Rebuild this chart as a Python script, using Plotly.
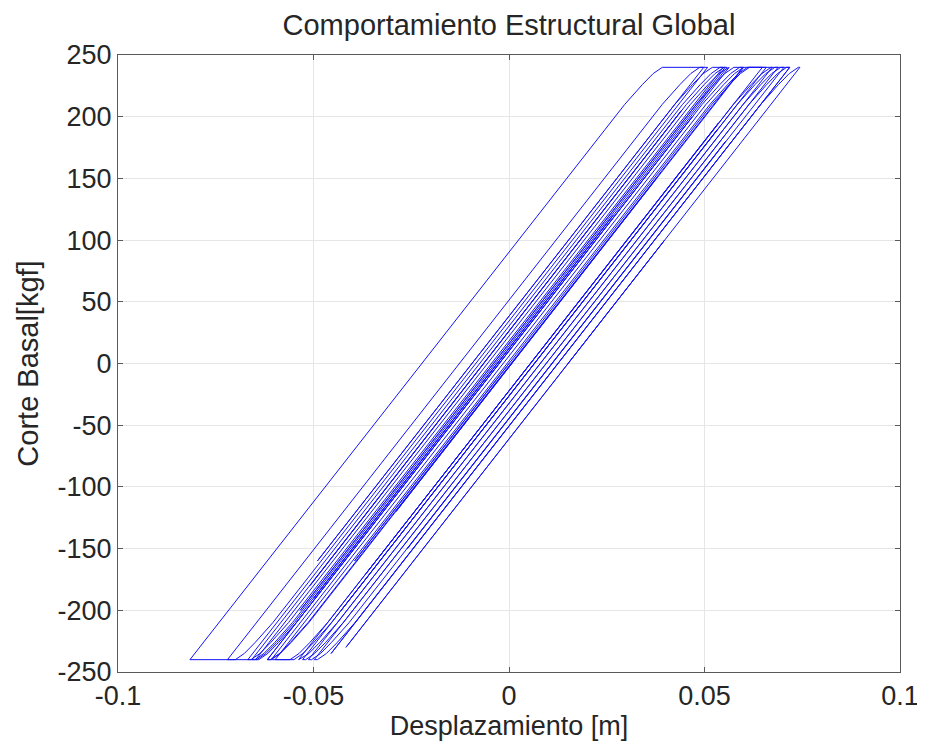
import plotly.graph_objects as go

# Vertices of the hysteresis path, in drawing order
desplazamiento_m = [
    0.0000, 0.0296, -0.0247, 0.0444, -0.0395,
    0.0519, 0.0564, 0.0592, 0.0615, 0.0648,
    -0.0464, -0.0509, -0.0537, -0.0560, -0.0598,
    0.0242, -0.0375, 0.0514, 0.0559, 0.0587, 0.0610, 0.0658,
    -0.0429, 0.0534, -0.0454, -0.0499, -0.0527, -0.0550, -0.0608,
    0.0504, 0.0549, 0.0577, 0.0600, 0.0600,
    -0.0289, 0.0377, -0.0512, -0.0557, -0.0585, -0.0608, -0.0618,
    0.0469, -0.0544, -0.0589, -0.0617, -0.0640, -0.0648,
    0.0464, 0.0509, 0.0537, 0.0560, 0.0563,
    -0.0499, 0.0266, -0.0549, -0.0594, -0.0622, -0.0645, -0.0658,
    0.0441, -0.0509, 0.0454, 0.0499, 0.0527, 0.0550, 0.0558,
    -0.0554, -0.0599, -0.0627, -0.0650, -0.0668,
    0.0444, 0.0489, 0.0517, 0.0540, 0.0548,
    -0.0564, -0.0609, -0.0637, -0.0660, -0.0816,
    0.0296, 0.0341, 0.0369, 0.0392, 0.0508,
    -0.0604, -0.0649, -0.0677, -0.0700, -0.0720,
    0.0392, 0.0437, 0.0465, 0.0488, 0.0498,
    -0.0490, 0.0349, -0.0342, 0.0424, 0.0469, 0.0497, 0.0520, 0.0553,
    -0.0361, 0.0380, -0.0534, 0.0479, 0.0524, 0.0552, 0.0575, 0.0598,
    -0.0514, -0.0559, -0.0587, -0.0610, -0.0618,
    0.0494, 0.0539, 0.0567, 0.0590, 0.0673,
    -0.0439, -0.0484, -0.0512, -0.0535, -0.0538,
    0.0536, -0.0365, 0.0574, 0.0619, 0.0647, 0.0670, 0.0688,
    -0.0424, -0.0469, -0.0497, -0.0520, -0.0528,
    0.0584, 0.0629, 0.0657, 0.0680, 0.0703,
    -0.0260, 0.0554, -0.0409, -0.0454, -0.0482, -0.0505, -0.0513,
    0.0599, 0.0644, 0.0672, 0.0695, 0.0718,
    -0.0394, -0.0439, -0.0467, -0.0490, -0.0498,
    0.0614, 0.0659, 0.0687, 0.0710, 0.0718,
    -0.0455, 0.0495, -0.0381, 0.0644, 0.0689, 0.0717, 0.0740, 0.0744,
    -0.0417, 0.0398, 0.0151,
]
corte_basal_kgf = [
    0, 120, -100, 180, -160,
    210, 226, 235, 240, 240,
    -210, -226, -235, -240, -240,
    100, -150, 210, 226, 235, 240, 240,
    -200, 190, -210, -226, -235, -240, -240,
    210, 226, 235, 240, 240,
    -120, 150, -210, -226, -235, -240, -240,
    200, -210, -226, -235, -240, -240,
    210, 226, 235, 240, 240,
    -190, 120, -210, -226, -235, -240, -240,
    205, -180, 210, 226, 235, 240, 240,
    -210, -226, -235, -240, -240,
    210, 226, 235, 240, 240,
    -210, -226, -235, -240, -240,
    210, 226, 235, 240, 240,
    -210, -226, -235, -240, -240,
    210, 226, 235, 240, 240,
    -160, 180, -100, 210, 226, 235, 240, 240,
    -130, 170, -200, 210, 226, 235, 240, 240,
    -210, -226, -235, -240, -240,
    210, 226, 235, 240, 240,
    -210, -226, -235, -240, -240,
    195, -170, 210, 226, 235, 240, 240,
    -210, -226, -235, -240, -240,
    210, 226, 235, 240, 240,
    -150, 180, -210, -226, -235, -240, -240,
    210, 226, 235, 240, 240,
    -210, -226, -235, -240, -240,
    210, 226, 235, 240, 240,
    -235, 150, -205, 210, 226, 235, 240, 240,
    -230, 100, 0,
]

x_ticks = [-0.1, -0.05, 0, 0.05, 0.1]
x_tick_labels = ["-0.1", "-0.05", "0", "0.05", "0.1"]
y_ticks = [-250, -200, -150, -100, -50, 0, 50, 100, 150, 200, 250]
y_tick_labels = [str(v) for v in y_ticks]

fig = go.Figure()
fig.add_trace(go.Scatter(
    x=desplazamiento_m, y=corte_basal_kgf, mode="lines",
    line=dict(color="rgb(20,20,245)", width=1),
    showlegend=False, hoverinfo="skip",
))

font_family = "Liberation Sans, Arial, sans-serif"
text_color = "#262626"
axis_common = dict(
    showline=True, linecolor="#5a5a5a", linewidth=1, mirror="ticks",
    ticks="inside", ticklen=5, tickcolor="#5a5a5a",
    showgrid=True, gridcolor="#e6e6e6", gridwidth=1,
    zeroline=False,
    tickfont=dict(family=font_family, size=27, color=text_color),
)

fig.update_layout(
    width=925, height=746,
    paper_bgcolor="white", plot_bgcolor="white",
    margin=dict(l=110, r=33, t=47, b=82),
    title=dict(text="Comportamiento Estructural Global",
               xref="paper", x=0.5, xanchor="center",
               yref="container", y=0.977, yanchor="middle",
               font=dict(family=font_family, size=29, color=text_color)),
    xaxis=dict(range=[-0.1, 0.1], tickvals=x_ticks, ticktext=x_tick_labels,
               title=dict(text="Desplazamiento [m]", standoff=0,
                          font=dict(family=font_family, size=27, color=text_color)),
               **axis_common),
    yaxis=dict(range=[-250, 250], tickvals=y_ticks, ticktext=y_tick_labels,
               title=dict(text="Corte Basal[kgf]", standoff=10,
                          font=dict(family=font_family, size=29, color=text_color)),
               **axis_common),
)

fig.write_html("out.html")
